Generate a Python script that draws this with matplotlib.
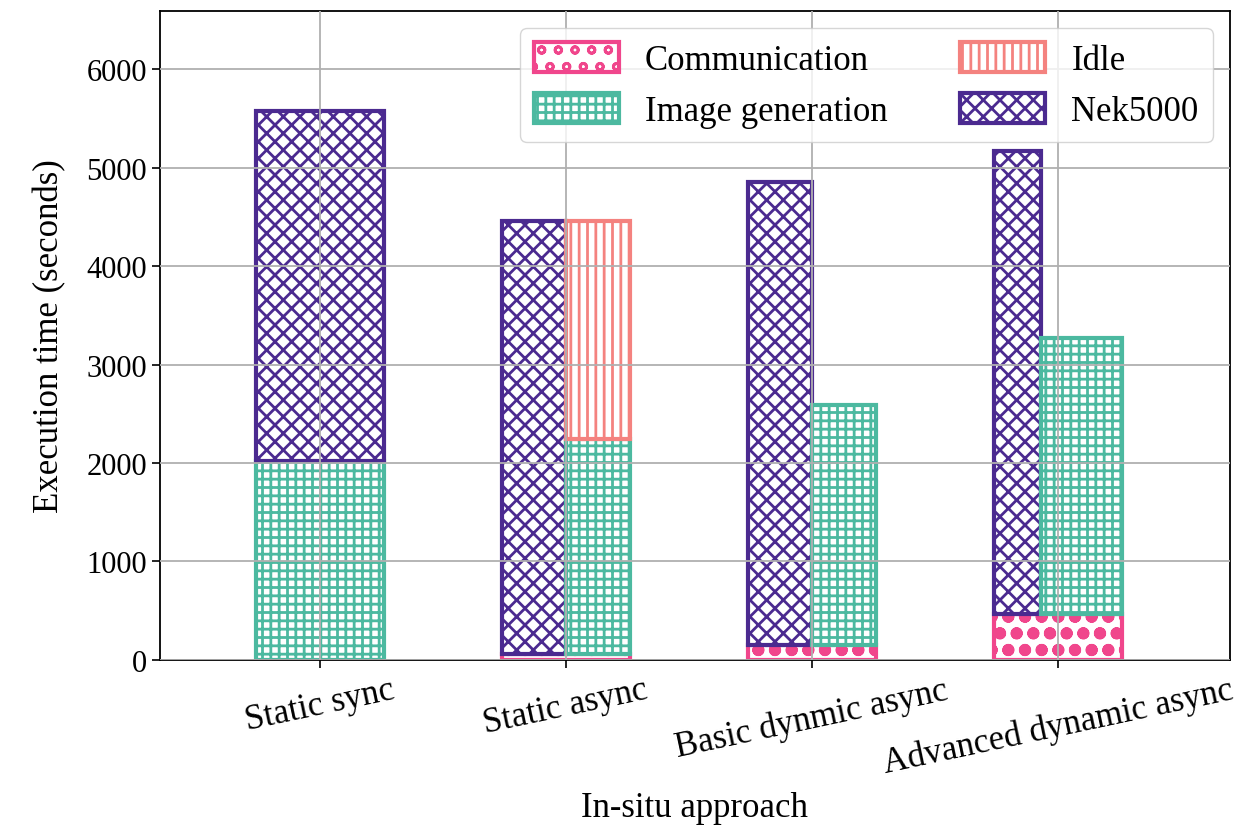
import matplotlib
matplotlib.use('Agg')
import matplotlib.pyplot as plt
from matplotlib.patches import Patch
import numpy as np

plt.rcParams['font.family'] = ['Liberation Serif', 'DejaVu Serif']
plt.rcParams['hatch.linewidth'] = 2.0

# data (seconds)
approaches = ['Static sync', 'Static async', 'Basic dynmic async', 'Advanced dynamic async']
communication = [0, 60, 150, 465]
image_gen = [2020, 2185, 2440, 2800]
idle = [0, 2210, 0, 0]
nek5000 = [3555, 4395, 4700, 4700]

c_comm = '#f0468c'
c_img = '#4cb9a0'
c_idle = '#f4827f'
c_nek = '#4b2a90'

h_comm, h_img, h_idle, h_nek = 'o', '++', '||', 'xx'

fig = plt.figure(figsize=(12.46, 8.29), dpi=100)
ax = fig.add_axes([0.1284, 0.2027, 0.8587, 0.7828])

x = np.arange(len(approaches))
half = 0.26
split = [0.0, 0.0, 0.0, -0.07]   # where the Nek5000 / image bars meet, per group
lw = 3

for i in range(len(approaches)):
    if i == 0:
        # synchronous: everything stacked in one bar
        ax.bar(x[i], image_gen[i], width=2 * half, bottom=0, color='white',
               edgecolor=c_img, hatch=h_img, linewidth=lw)
        ax.bar(x[i], nek5000[i], width=2 * half, bottom=image_gen[i], color='white',
               edgecolor=c_nek, hatch=h_nek, linewidth=lw)
        continue
    left = x[i] - half
    mid = x[i] + split[i]
    right = x[i] + half
    # thicker hatch so the communication dots look filled
    with plt.rc_context({'hatch.linewidth': 4.0}):
        ax.bar(left, communication[i], width=right - left, align='edge', color='white',
               edgecolor=c_comm, hatch=h_comm, linewidth=lw)
    ax.bar(left, nek5000[i], width=mid - left, bottom=communication[i], align='edge',
           color='white', edgecolor=c_nek, hatch=h_nek, linewidth=lw)
    ax.bar(mid, image_gen[i], width=right - mid, bottom=communication[i], align='edge',
           color='white', edgecolor=c_img, hatch=h_img, linewidth=lw)
    if idle[i] > 0:
        ax.bar(mid, idle[i], width=right - mid, bottom=communication[i] + image_gen[i],
               align='edge', color='white', edgecolor=c_idle, hatch=h_idle, linewidth=lw)

# legend handles
with plt.rc_context({'hatch.linewidth': 4.0}):
    comm_patch = Patch(facecolor='white', edgecolor=c_comm, hatch=h_comm, linewidth=lw,
                       label='Communication')
handles = [
    comm_patch,
    Patch(facecolor='white', edgecolor=c_img, hatch=h_img, linewidth=lw, label='Image generation'),
    Patch(facecolor='white', edgecolor=c_idle, hatch=h_idle, linewidth=lw, label='Idle'),
    Patch(facecolor='white', edgecolor=c_nek, hatch=h_nek, linewidth=lw, label='Nek5000'),
]
ax.legend(handles=handles, loc='upper right', ncol=2, fontsize=25,
          handlelength=2.45, handleheight=0.95, handletextpad=0.75,
          columnspacing=2.1, labelspacing=0.45)

ax.set_xlim(-0.65, 3.7)
ax.set_ylim(0, 6590)
ax.set_xticks(x)
ax.set_xticklabels(approaches, rotation=12, ha='center', fontsize=25)
ax.set_yticks([0, 1000, 2000, 3000, 4000, 5000, 6000])
ax.tick_params(axis='y', labelsize=22, length=6, width=1.2)
ax.tick_params(axis='x', length=6, width=1.2)
ax.set_axisbelow(False)
ax.grid(True, color='#b0b0b0', linewidth=1.3)
for s in ax.spines.values():
    s.set_linewidth(1.3)

ax.set_ylabel('Execution time (seconds)', fontsize=25, labelpad=14)
ax.set_xlabel('In-situ approach', fontsize=25, labelpad=8)

fig.savefig('out.png', dpi=100)
